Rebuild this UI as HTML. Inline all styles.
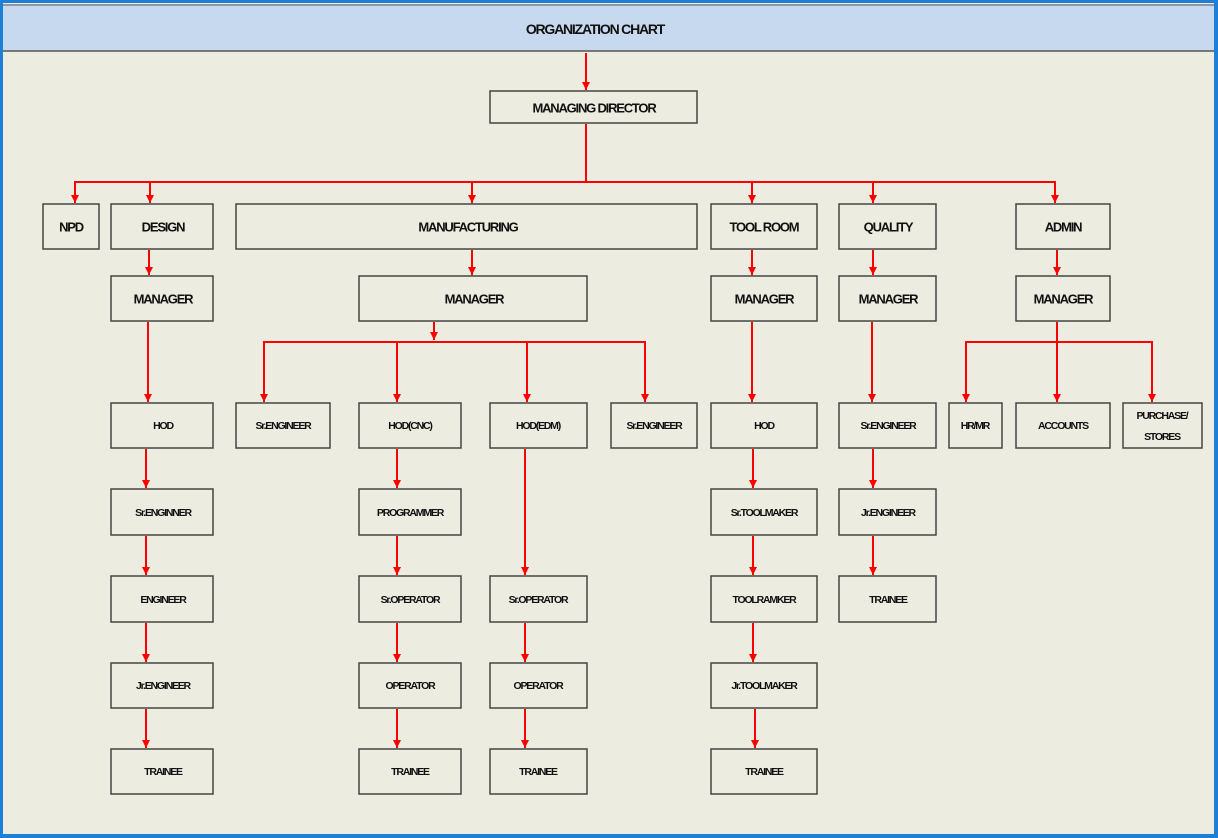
<!DOCTYPE html>
<html><head><meta charset="utf-8"><style>
html,body{margin:0;padding:0;background:#fff}
svg{display:block}
text{font-family:"Liberation Sans Narrow","Liberation Sans",sans-serif;fill:#111;text-anchor:middle;dominant-baseline:central;letter-spacing:-1.2px;font-weight:bold}
.b{font-size:13px}.s{font-size:10.5px}
rect.x{fill:none;stroke:#444;stroke-width:1.5}
line{stroke:#f00;stroke-width:2}
</style></head><body>
<svg width="1218" height="838" viewBox="0 0 1218 838">
<defs><marker id="d" markerWidth="8" markerHeight="8" refX="4" refY="8" markerUnits="userSpaceOnUse"><path d="M0,0 L8,0 L4,8 z" fill="#f00"/></marker></defs>
<rect x="0" y="0" width="1218" height="838" fill="#1e7fd8"/>
<rect x="3" y="3" width="1211" height="831" fill="#ecede0"/>
<rect x="3" y="4" width="1211" height="47" fill="#c6d9ee"/>
<line x1="3" y1="51" x2="1214" y2="51" style="stroke:#555;stroke-width:1.5"/>
<line x1="3" y1="5" x2="1214" y2="5" style="stroke:#555;stroke-width:1"/>
<text class="b" x="595" y="29" style="font-size:14px">ORGANIZATION CHART</text>
<g marker-end="url(#d)">
<line x1="586" y1="53" x2="586" y2="90"/>
</g>
<line x1="586" y1="124" x2="586" y2="182"/>
<line x1="74" y1="182" x2="1056" y2="182"/>
<g marker-end="url(#d)">
<line x1="75" y1="182" x2="75" y2="203"/><line x1="150" y1="182" x2="150" y2="203"/>
<line x1="472" y1="182" x2="472" y2="203"/><line x1="752" y1="182" x2="752" y2="203"/>
<line x1="873" y1="182" x2="873" y2="203"/><line x1="1055" y1="182" x2="1055" y2="203"/>
<line x1="149" y1="250" x2="149" y2="275"/><line x1="472" y1="250" x2="472" y2="275"/>
<line x1="752" y1="250" x2="752" y2="275"/><line x1="873" y1="250" x2="873" y2="275"/>
<line x1="1057" y1="250" x2="1057" y2="275"/>
<line x1="148" y1="322" x2="148" y2="402"/><line x1="752" y1="322" x2="752" y2="402"/>
<line x1="872" y1="322" x2="872" y2="402"/>
<line x1="434" y1="322" x2="434" y2="340"/>
<line x1="264" y1="342" x2="264" y2="402"/><line x1="397" y1="342" x2="397" y2="402"/>
<line x1="527" y1="342" x2="527" y2="402"/><line x1="645" y1="342" x2="645" y2="402"/>
<line x1="966" y1="342" x2="966" y2="402"/><line x1="1057" y1="322" x2="1057" y2="402"/>
<line x1="1152" y1="342" x2="1152" y2="402"/>
<line x1="146" y1="449" x2="146" y2="488"/><line x1="397" y1="449" x2="397" y2="488"/>
<line x1="753" y1="449" x2="753" y2="488"/><line x1="873" y1="449" x2="873" y2="488"/>
<line x1="525" y1="449" x2="525" y2="575"/>
<line x1="146" y1="536" x2="146" y2="575"/><line x1="397" y1="536" x2="397" y2="575"/>
<line x1="753" y1="536" x2="753" y2="575"/><line x1="873" y1="536" x2="873" y2="575"/>
<line x1="146" y1="623" x2="146" y2="662"/><line x1="397" y1="623" x2="397" y2="662"/>
<line x1="525" y1="623" x2="525" y2="662"/><line x1="753" y1="623" x2="753" y2="662"/>
<line x1="146" y1="709" x2="146" y2="748"/><line x1="397" y1="709" x2="397" y2="748"/>
<line x1="525" y1="709" x2="525" y2="748"/><line x1="755" y1="709" x2="755" y2="748"/>
</g>
<line x1="263" y1="342" x2="646" y2="342"/>
<line x1="965" y1="342" x2="1153" y2="342"/>

<rect class="x" x="490" y="91" width="207" height="32"/><text class="b" x="594" y="108">MANAGING DIRECTOR</text>
<rect class="x" x="43" y="204" width="56" height="45"/><text class="b" x="71" y="227">NPD</text>
<rect class="x" x="111" y="204" width="102" height="45"/><text class="b" x="163" y="227">DESIGN</text>
<rect class="x" x="236" y="204" width="461" height="45"/><text class="b" x="468" y="227">MANUFACTURING</text>
<rect class="x" x="711" y="204" width="106" height="45"/><text class="b" x="764" y="227">TOOL ROOM</text>
<rect class="x" x="839" y="204" width="97" height="45"/><text class="b" x="888" y="227">QUALITY</text>
<rect class="x" x="1016" y="204" width="94" height="45"/><text class="b" x="1063" y="227">ADMIN</text>

<rect class="x" x="111" y="276" width="102" height="45"/><text class="b" x="163" y="299">MANAGER</text>
<rect class="x" x="359" y="276" width="228" height="45"/><text class="b" x="474" y="299">MANAGER</text>
<rect class="x" x="711" y="276" width="106" height="45"/><text class="b" x="764" y="299">MANAGER</text>
<rect class="x" x="839" y="276" width="97" height="45"/><text class="b" x="888" y="299">MANAGER</text>
<rect class="x" x="1016" y="276" width="94" height="45"/><text class="b" x="1063" y="299">MANAGER</text>

<rect class="x" x="111" y="403" width="102" height="45"/><text class="s" x="163" y="426">HOD</text>
<rect class="x" x="236" y="403" width="94" height="45"/><text class="s" x="283" y="426">Sr.ENGINEER</text>
<rect class="x" x="359" y="403" width="102" height="45"/><text class="s" x="410" y="426">HOD(CNC)</text>
<rect class="x" x="490" y="403" width="97" height="45"/><text class="s" x="538" y="426">HOD(EDM)</text>
<rect class="x" x="611" y="403" width="86" height="45"/><text class="s" x="654" y="426">Sr.ENGINEER</text>
<rect class="x" x="711" y="403" width="106" height="45"/><text class="s" x="764" y="426">HOD</text>
<rect class="x" x="839" y="403" width="97" height="45"/><text class="s" x="888" y="426">Sr.ENGINEER</text>
<rect class="x" x="949" y="403" width="53" height="45"/><text class="s" x="975" y="426">HR/MR</text>
<rect class="x" x="1016" y="403" width="94" height="45"/><text class="s" x="1063" y="426">ACCOUNTS</text>
<rect class="x" x="1123" y="403" width="79" height="45"/><text class="s" x="1162" y="416">PURCHASE/</text><text class="s" x="1162" y="437">STORES</text>

<rect class="x" x="111" y="489" width="102" height="46"/><text class="s" x="163" y="513">Sr.ENGINNER</text>
<rect class="x" x="359" y="489" width="102" height="46"/><text class="s" x="410" y="513">PROGRAMMER</text>
<rect class="x" x="711" y="489" width="106" height="46"/><text class="s" x="764" y="513">Sr.TOOLMAKER</text>
<rect class="x" x="839" y="489" width="97" height="46"/><text class="s" x="888" y="513">Jr.ENGINEER</text>

<rect class="x" x="111" y="576" width="102" height="46"/><text class="s" x="163" y="600">ENGINEER</text>
<rect class="x" x="359" y="576" width="102" height="46"/><text class="s" x="410" y="600">Sr.OPERATOR</text>
<rect class="x" x="490" y="576" width="97" height="46"/><text class="s" x="538" y="600">Sr.OPERATOR</text>
<rect class="x" x="711" y="576" width="106" height="46"/><text class="s" x="764" y="600">TOOLRAMKER</text>
<rect class="x" x="839" y="576" width="97" height="46"/><text class="s" x="888" y="600">TRAINEE</text>

<rect class="x" x="111" y="663" width="102" height="45"/><text class="s" x="163" y="686">Jr.ENGINEER</text>
<rect class="x" x="359" y="663" width="102" height="45"/><text class="s" x="410" y="686">OPERATOR</text>
<rect class="x" x="490" y="663" width="97" height="45"/><text class="s" x="538" y="686">OPERATOR</text>
<rect class="x" x="711" y="663" width="106" height="45"/><text class="s" x="764" y="686">Jr.TOOLMAKER</text>

<rect class="x" x="111" y="749" width="102" height="45"/><text class="s" x="163" y="772">TRAINEE</text>
<rect class="x" x="359" y="749" width="102" height="45"/><text class="s" x="410" y="772">TRAINEE</text>
<rect class="x" x="490" y="749" width="97" height="45"/><text class="s" x="538" y="772">TRAINEE</text>
<rect class="x" x="711" y="749" width="106" height="45"/><text class="s" x="764" y="772">TRAINEE</text>
</svg>
</body></html>
